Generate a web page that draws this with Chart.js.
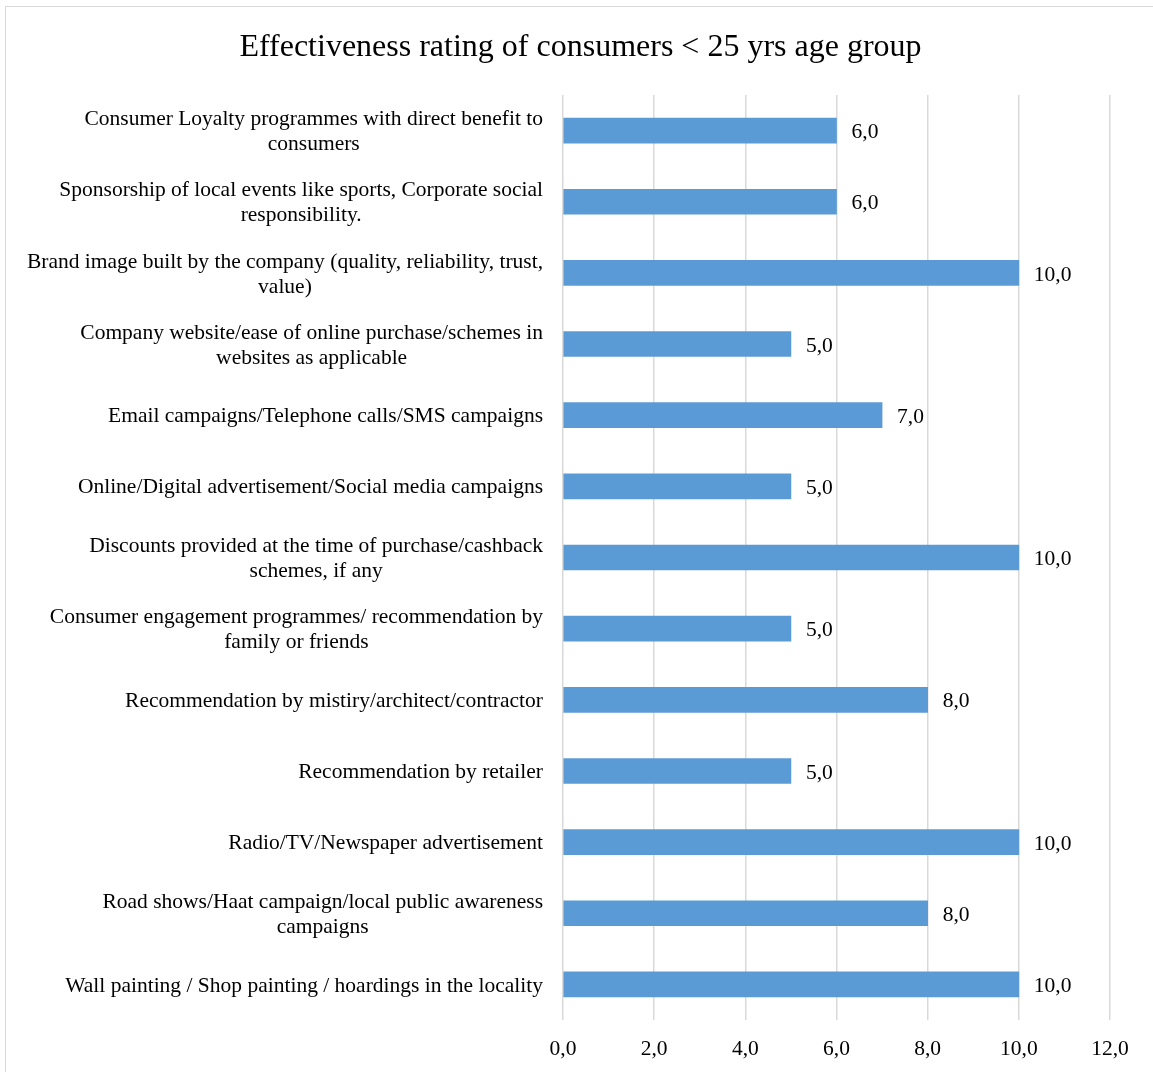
<!DOCTYPE html>
<html>
<head>
<meta charset="utf-8">
<script src="https://cdn.jsdelivr.net/npm/chart.js"></script>
<style>
  html, body { margin: 0; padding: 0; background: #ffffff; overflow: hidden; }
  #wrap { position: relative; width: 1153px; height: 1072px; }
  #frame {
    position: absolute; left: 5px; top: 6px; width: 2000px; height: 2000px;
    border: 1px solid #d9d9d9; box-sizing: border-box; pointer-events: none;
  }
  canvas { position: absolute; left: 0; top: 0; }
</style>
</head>
<body>
<div id="wrap">
  <div id="frame"></div>
  <canvas id="ratingChart" width="1153" height="1072"></canvas>
</div>
<script>
// Categories (top to bottom), one array per line of the label
const categories = [
  ['Consumer Loyalty programmes with direct benefit to', 'consumers'],
  ['Sponsorship of local events like sports, Corporate social', 'responsibility.'],
  ['Brand image built by the company (quality, reliability, trust,', 'value)'],
  ['Company website/ease of online purchase/schemes in', 'websites as applicable'],
  ['Email campaigns/Telephone calls/SMS campaigns'],
  ['Online/Digital advertisement/Social media campaigns'],
  ['Discounts provided at the time of purchase/cashback', 'schemes, if any'],
  ['Consumer engagement programmes/ recommendation by', 'family or friends'],
  ['Recommendation by mistiry/architect/contractor'],
  ['Recommendation by retailer'],
  ['Radio/TV/Newspaper advertisement'],
  ['Road shows/Haat campaign/local public awareness', 'campaigns'],
  ['Wall painting / Shop painting / hoardings in the locality']
];

const ratings = [6, 6, 10, 5, 7, 5, 10, 5, 8, 5, 10, 8, 10];

const xTicks = [0, 2, 4, 6, 8, 10, 12];

const chartTitle = 'Effectiveness rating of consumers < 25 yrs age group';

const THEME = {
  bar: '#5b9bd5',
  text: '#000000',
  grid: '#d9d9d9',
  font: '"Liberation Serif", "Times New Roman", serif',
  size: 21.5
};

// number format used in the source (comma decimal)
function fmt(v) {
  return Number(v).toFixed(1).replace('.', ',');
}

/**
 * Draws the category labels: block right aligned, lines centred on each other
 */
const categoryLabels = {
  id: 'categoryLabels',
  afterDraw(chart) {
    const ctx = chart.ctx;
    const y = chart.scales.y;
    const right = chart.chartArea.left - 20;
    const lineH = 25;
    ctx.save();
    ctx.font = THEME.size + 'px ' + THEME.font;
    ctx.fillStyle = THEME.text;
    ctx.textBaseline = 'middle';
    ctx.textAlign = 'center';
    categories.forEach((lines, i) => {
      const cy = y.getPixelForValue(i) + 1.5;
      const widest = Math.max(...lines.map(l => ctx.measureText(l).width));
      const cx = right - widest / 2;
      lines.forEach((line, k) => {
        const ly = cy + (k - (lines.length - 1) / 2) * lineH;
        ctx.fillText(line, cx, ly);
      });
    });
    ctx.restore();
  }
};

/**
 * Draws the value next to the end of each bar
 */
const valueLabels = {
  id: 'valueLabels',
  afterDatasetsDraw(chart) {
    const ctx = chart.ctx;
    const meta = chart.getDatasetMeta(0);
    ctx.save();
    ctx.font = THEME.size + 'px ' + THEME.font;
    ctx.fillStyle = THEME.text;
    ctx.textAlign = 'left';
    ctx.textBaseline = 'middle';
    meta.data.forEach((bar, i) => {
      ctx.fillText(fmt(ratings[i]), bar.x + 15, bar.y + 2);
    });
    ctx.restore();
  }
};

function createRatingChart(canvasId) {
  const ctx = document.getElementById(canvasId)?.getContext('2d');
  if (!ctx) return null;

  return new Chart(ctx, {
    type: 'bar',
    data: {
      labels: categories.map(c => c.join(' ')),
      datasets: [{
        data: ratings,
        backgroundColor: THEME.bar,
        borderWidth: 0,
        barThickness: 25
      }]
    },
    options: {
      indexAxis: 'y',
      responsive: false,
      animation: false,
      layout: { padding: { left: 51, right: 43, top: 0, bottom: 0 } },
      plugins: {
        legend: { display: false },
        tooltip: { enabled: false },
        title: {
          display: true,
          text: chartTitle,
          color: THEME.text,
          font: { family: THEME.font, size: 32, weight: 'normal', lineHeight: 1.2 },
          padding: { top: 28, bottom: 28.6 }
        }
      },
      scales: {
        x: {
          type: 'linear',
          min: 0,
          max: 12,
          afterBuildTicks: s => { s.ticks = xTicks.map(v => ({ value: v })); },
          afterFit: s => { s.height = 52; },
          border: { display: false },
          grid: { color: THEME.grid, lineWidth: 1.5, drawTicks: false },
          ticks: {
            color: THEME.text,
            padding: 16,
            font: { family: THEME.font, size: THEME.size },
            callback: v => fmt(v)
          }
        },
        y: {
          type: 'category',
          afterFit: s => { s.width = 512; },
          border: { display: false },
          grid: { display: false },
          ticks: { display: false }
        }
      }
    },
    plugins: [categoryLabels, valueLabels]
  });
}

createRatingChart('ratingChart');
</script>
</body>
</html>
